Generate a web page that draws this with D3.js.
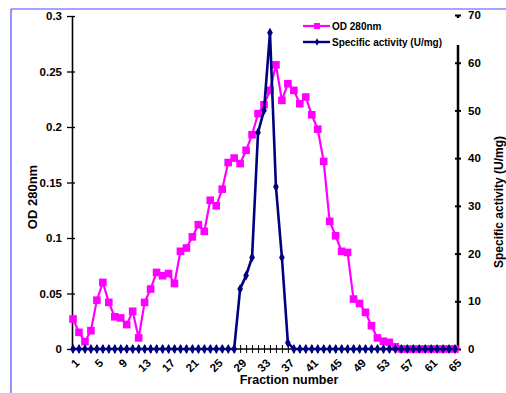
<!DOCTYPE html>
<html><head><meta charset="utf-8">
<script src="https://cdn.jsdelivr.net/npm/d3@7"></script>
<style>body{margin:0;background:#fff}svg{display:block}text{font-family:Arial,"Liberation Sans",sans-serif;font-weight:bold}</style>
</head><body><svg id="c" width="506" height="393"></svg>
<script>
const fractions = [1,2,3,4,5,6,7,8,9,10,11,12,13,14,15,16,17,18,19,20,21,22,23,24,25,26,27,28,29,30,31,32,33,34,35,36,37,38,39,40,41,42,43,44,45,46,47,48,49,50,51,52,53,54,55,56,57,58,59,60,61,62,63,64,65];
const od280 = [0.027,0.015,0.0066,0.0165,0.044,0.060,0.042,0.029,0.028,0.022,
  0.034,0.010,0.042,0.054,0.069,0.066,0.068,0.059,0.088,0.091,
  0.101,0.112,0.106,0.134,0.129,0.144,0.168,0.172,0.167,0.179,
  0.193,0.212,0.220,0.233,0.256,0.224,0.239,0.233,0.221,0.227,
  0.211,0.198,0.169,0.115,0.102,0.088,0.087,0.045,0.041,0.033,
  0.021,0.010,0.007,0.006,0.002,0,0,0,0,0,
  0,0,0,0,0];
const activity = [0,0,0,0,0,0,0,0,0,0,
  0,0,0,0,0,0,0,0,0,0,
  0,0,0,0,0,0,0,0,12.6,15.4,
  19.2,45.4,50.0,66.3,34.0,19.2,1.3,0,0,0,
  0,0,0,0,0,0,0,0,0,0,
  0,0,0,0,0,0,0,0,0,0,
  0,0,0,0,0];
const xTickLabels = [1,5,9,13,17,21,25,29,33,37,41,45,49,53,57,61,65];
const leftTicks = [0,0.05,0.1,0.15,0.2,0.25,0.3];
const rightTicks = [0,10,20,30,40,50,60,70];
const seriesNames = ["OD 280nm","Specific activity (U/mg)"];

const svg = d3.select("#c");
const x = d3.scaleLinear().domain([1,65]).range([73,455]);
const yL = d3.scaleLinear().domain([0,0.3]).range([349,16]);
const yR = d3.scaleLinear().domain([0,70]).range([349,15]);
const pink = "#ff00ff", navy = "#000080";

// frame
svg.append("line").attr("x1",11).attr("x2",506).attr("y1",9).attr("y2",9).attr("stroke","#4d4dff").attr("stroke-width",1.2);
svg.append("line").attr("x1",11).attr("x2",11).attr("y1",9).attr("y2",393).attr("stroke","#4d4dff").attr("stroke-width",1.2);

// left axis
const gL = svg.append("g").attr("transform","translate(72,0)")
  .call(d3.axisLeft(yL).tickValues(leftTicks).tickFormat(d=>String(+d.toFixed(2))).tickSizeInner(5).tickSizeOuter(0).tickPadding(5));
gL.selectAll(".tick line").attr("x1",3).attr("x2",-5).attr("stroke","#000").attr("stroke-width",1.3);
gL.select(".domain").attr("stroke","#000").attr("stroke-width",1.6);
gL.selectAll(".tick text").style("font-size","11.5px").style("font-weight","bold").style("font-family","Arial, 'Liberation Sans', sans-serif").attr("fill","#000");

// right axis
const gR = svg.append("g").attr("transform","translate(458,0)")
  .call(d3.axisRight(yR).tickValues(rightTicks).tickSizeInner(3).tickSizeOuter(0).tickPadding(7));
gR.select(".domain").remove();
gR.append("line").attr("x1",0).attr("x2",0).attr("y1",yR(70)).attr("y2",yR(70)+3).attr("stroke","#000").attr("stroke-width",2.5);
gR.append("line").attr("x1",0).attr("x2",0).attr("y1",45).attr("y2",yR(0)).attr("stroke","#000").attr("stroke-width",2.5);
gR.selectAll(".tick line").attr("x1",-3).attr("x2",3).attr("stroke","#000").attr("stroke-width",2);
gR.selectAll(".tick text").style("font-size","11.5px").style("font-weight","bold").style("font-family","Arial, 'Liberation Sans', sans-serif").attr("fill","#000");

// x axis
const gX = svg.append("g").attr("transform","translate(0,349)")
  .call(d3.axisBottom(x).tickValues(fractions).tickFormat("").tickSizeInner(4).tickSizeOuter(0));
gX.select(".domain").attr("d","M72,0H458").attr("stroke","#000").attr("stroke-width",1.5);
gX.selectAll(".tick line").attr("y1",-4).attr("y2",4).attr("stroke","#000").attr("stroke-width",1);
svg.append("g").selectAll("text").data(xTickLabels).join("text")
  .attr("transform",d=>`translate(${x(d)+1.5},358) rotate(-45)`)
  .attr("text-anchor","end").attr("dy","0.7em").style("font-size","11.5px").text(d=>d);

// titles
svg.append("text").attr("transform","translate(37,197) rotate(-90)").attr("text-anchor","middle").style("font-size","13px").text("OD 280nm");
svg.append("text").attr("x",289).attr("y",384).attr("text-anchor","middle").style("font-size","12.5px").text("Fraction number");
svg.append("text").attr("transform","translate(503,202) rotate(-90)").attr("text-anchor","middle").style("font-size","12px").text("Specific activity (U/mg)");

// series
const odData = fractions.map((f,i)=>({f,v:od280[i]}));
const acData = fractions.map((f,i)=>({f,v:activity[i]}));
svg.append("path").datum(odData).attr("fill","none").attr("stroke",pink).attr("stroke-width",2.2)
  .attr("d",d3.line().x(d=>x(d.f)).y(d=>yL(d.v)));
svg.append("g").selectAll("rect").data(odData).join("rect")
  .attr("x",d=>x(d.f)-3.8).attr("y",d=>yL(d.v)-3.8).attr("width",7.6).attr("height",7.6).attr("fill",pink);
svg.append("path").datum(acData).attr("fill","none").attr("stroke",navy).attr("stroke-width",2.6)
  .attr("d",d3.line().x(d=>x(d.f)).y(d=>yR(d.v)));
const diamond = d3.symbol().type(d3.symbolDiamond).size(28);
svg.append("g").selectAll("path").data(acData).join("path")
  .attr("transform",d=>`translate(${x(d.f)},${yR(d.v)})`).attr("d",diamond).attr("fill",navy);

// legend
const lg = svg.append("g");
lg.append("line").attr("x1",303).attr("x2",330).attr("y1",26).attr("y2",26).attr("stroke",pink).attr("stroke-width",2.2);
lg.append("rect").attr("x",317-3).attr("y",23).attr("width",6).attr("height",6).attr("fill",pink);
lg.append("line").attr("x1",303).attr("x2",330).attr("y1",42).attr("y2",42).attr("stroke",navy).attr("stroke-width",2.4);
lg.append("path").attr("transform","translate(317,42)").attr("d",d3.symbol().type(d3.symbolDiamond).size(16)).attr("fill",navy);
lg.selectAll("text.l").data(seriesNames).join("text").attr("class","l")
  .attr("x",332).attr("y",(d,i)=>30+i*16).style("font-size","10px").text(d=>d);
</script></body></html>
